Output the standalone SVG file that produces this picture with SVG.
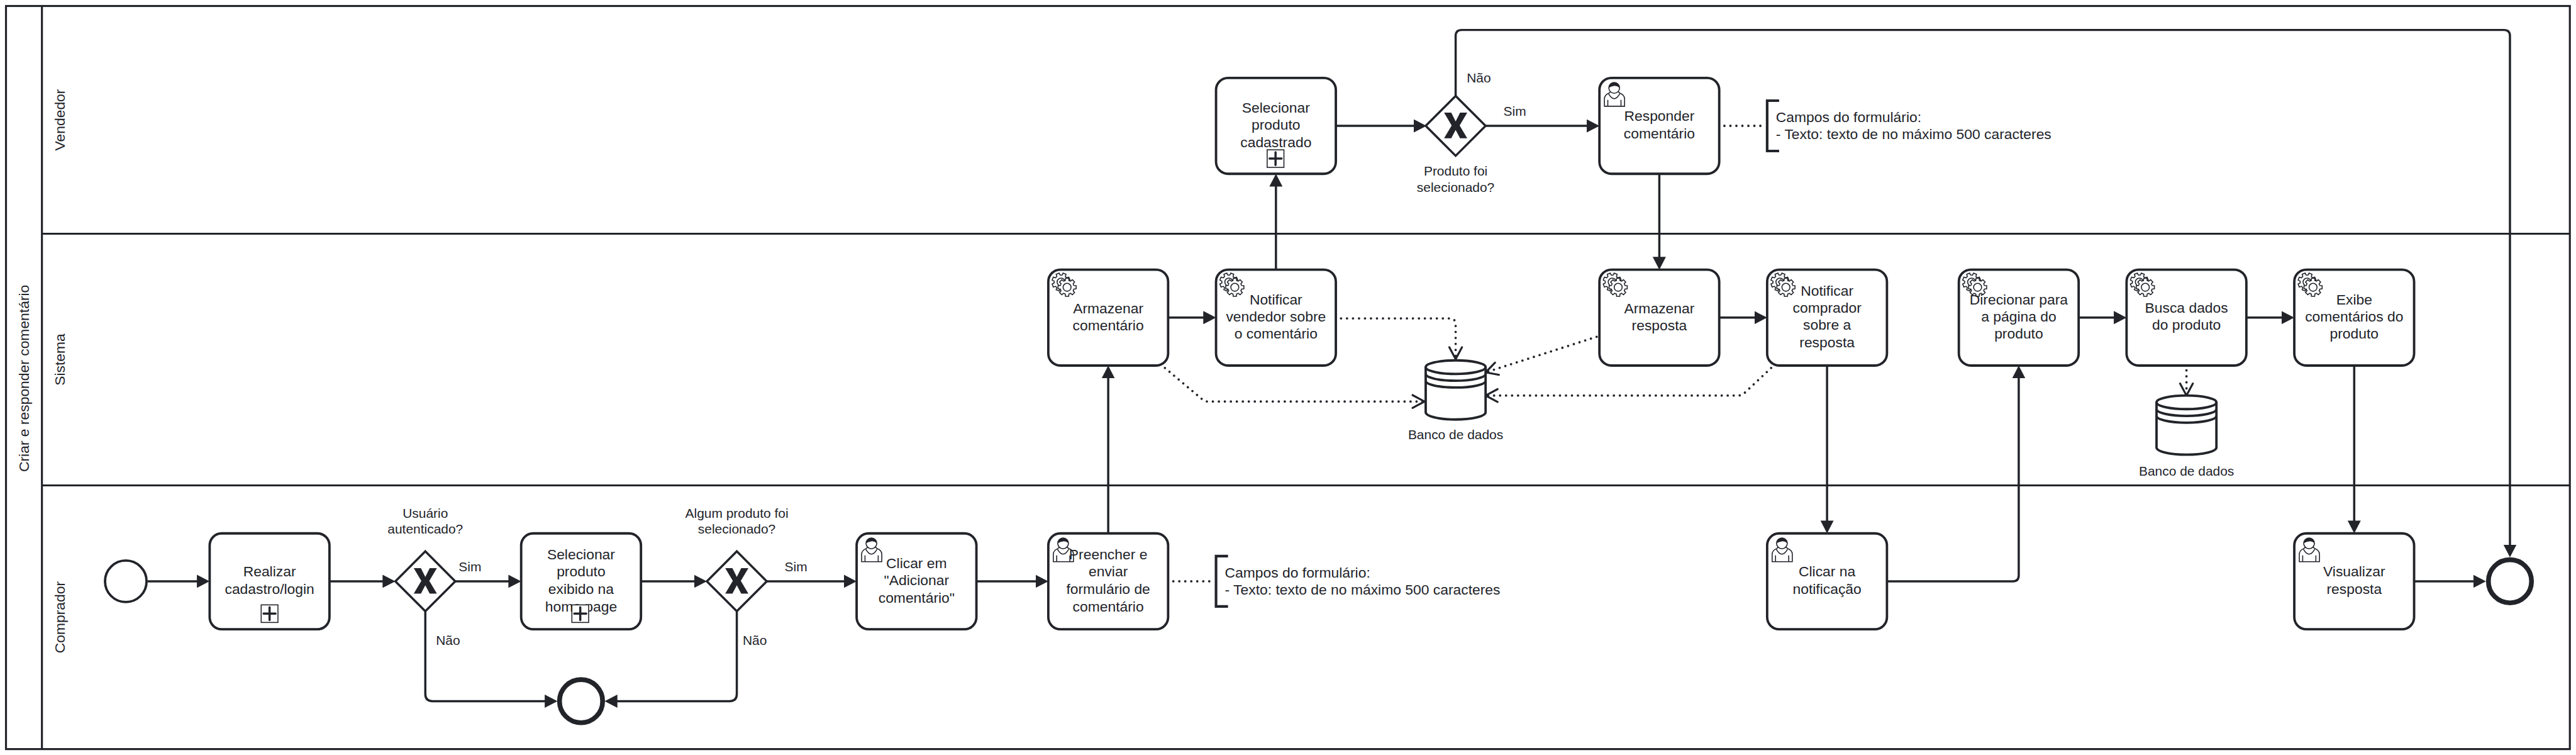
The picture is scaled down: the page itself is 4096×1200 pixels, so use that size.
<svg xmlns="http://www.w3.org/2000/svg" xmlns:xlink="http://www.w3.org/1999/xlink" width="4096" height="1200" viewBox="0 0 4096 1200">
<style>
text{font-family:"Liberation Sans",Arial,sans-serif;fill:#22242a}
.t{font-size:36px;text-anchor:middle}
.l{font-size:33px;text-anchor:middle}
.a{font-size:36px}
.lane{fill:none;stroke:#22242a;stroke-width:5}
.task{fill:#fff;stroke:#22242a;stroke-width:6}
.c{fill:none;stroke:#22242a;stroke-width:5.5;marker-end:url(#arrow)}
.d{fill:none;stroke:#22242a;stroke-width:6;stroke-dasharray:0 15;stroke-linecap:round}
.o{marker-end:url(#open)}
.db{fill:#fff;stroke:#22242a;stroke-width:6}
.br{fill:none;stroke:#22242a;stroke-width:6.5}
.ic{fill:#fff;stroke:#22242a;stroke-width:2.5}
</style>
<defs>
<marker id="arrow" markerUnits="userSpaceOnUse" markerWidth="32" markerHeight="33" viewBox="0 0 32 33" refX="22" refY="16.5" orient="auto"><polygon points="0,0 32,16.5 0,33" fill="#22242a"/></marker>
<marker id="open" markerUnits="userSpaceOnUse" markerWidth="40" markerHeight="40" viewBox="-4 -4 40 40" refX="30" refY="16" orient="auto"><path d="M0 0L30 16L0 32" fill="none" stroke="#22242a" stroke-width="5" stroke-linecap="round" stroke-linejoin="miter"/></marker>
<polygon id="gear" points="16.9,-4.5 22.65,-4 22.65,4 16.9,4.5 15.16,8.75 18.84,13.19 13.19,18.84 8.75,15.16 4.53,16.9 3.99,22.65 -3.99,22.65 -4.53,16.9 -8.75,15.16 -13.19,18.84 -18.84,13.19 -15.16,8.75 -16.9,4.53 -22.65,3.99 -22.65,-3.99 -16.9,-4.53 -15.16,-8.75 -18.84,-13.19 -13.19,-18.84 -8.75,-15.16 -4.53,-16.9 -3.99,-22.65 3.99,-22.65 4.53,-16.9 8.75,-15.16 13.19,-18.84 18.84,-13.19 15.16,-8.75"/>
<g id="service">
<use href="#gear" class="ic" transform="translate(32 31) rotate(22.5)"/>
<circle cx="32" cy="31" r="10" class="ic"/>
<use href="#gear" class="ic" transform="translate(47 44)"/>
<circle cx="47" cy="44" r="10" class="ic"/>
</g>
<g id="user">
<path class="ic" stroke-width="2" d="M12.5 71V52Q12.5 43 24 38L28 34H47L51 38Q63 43 63 52V71Z"/>
<path class="ic" d="M23 40Q37 64 51 40M21 55V70M54 55V70" style="fill:none"/>
<circle class="ic" cx="37" cy="25" r="13.5"/>
<path fill="#22242a" d="M23.5 25A13.5 13.5 0 0 1 50.5 25Q44 19 37 20Q30 21 23.5 25Z"/>
</g>
<g id="sub">
<rect x="-21" y="-22" width="42" height="44" fill="#fff" stroke="#22242a" stroke-width="2.5"/>
<path d="M-15 0H15M0 -16V16" fill="none" stroke="#22242a" stroke-width="5.5" stroke-linecap="round"/>
</g>
<g id="gw">
<polygon points="0,-75 75,0 0,75 -75,0" fill="#fff" stroke="#22242a" stroke-width="5.5" stroke-linejoin="miter"/>
<polygon fill="#22242a" points="-29,-33 -11,-33 0,-11 11,-33 29,-33 10,-1 29,31 11,31 0,10 -11,31 -29,31 -10,-1"/>
</g>
<g id="cyl">
<path class="db" d="M-75 17A75 17 0 0 1 75 17V130A75 18 0 0 1 -75 130Z"/>
<path class="db" style="fill:none" d="M-75 17A75 17 0 0 0 75 17M-75 34A75 17 0 0 0 75 34M-75 51A75 17 0 0 0 75 51"/>
</g>
</defs>
<rect width="4096" height="1200" fill="#fff"/>
<g transform="scale(0.635)">
<g id="lanes">
<rect class="lane" x="15" y="15" width="6420" height="1860"/>
<path class="lane" d="M105 15V1875M105 585H6435M105 1215H6435"/>
<text class="t" transform="translate(72 947) rotate(-90)">Criar e responder comentário</text>
<text class="t" transform="translate(162 300) rotate(-90)">Vendedor</text>
<text class="t" transform="translate(162 900) rotate(-90)">Sistema</text>
<text class="t" transform="translate(162 1545) rotate(-90)">Comprador</text>
</g>
<g id="connectors">
<path class="c" d="M370 1455H515"/>
<path class="c" d="M825 1455H980"/>
<path class="c" d="M1140 1455H1295"/>
<path class="c" d="M1605 1455H1760"/>
<path class="c" d="M1920 1455H2135"/>
<path class="c" d="M2445 1455H2615"/>
<path class="c" d="M1065 1530V1737Q1065 1755 1083 1755H1386"/>
<path class="c" d="M1845 1530V1737Q1845 1755 1827 1755H1524"/>
<path class="c" d="M2775 1335V925"/>
<path class="c" d="M2925 795H3035"/>
<path class="c" d="M3195 675V445"/>
<path class="c" d="M3345 315H3562"/>
<path class="c" d="M3720 315H3995"/>
<path class="c" d="M3645 240V90Q3645 75 3660 75H6270Q6285 75 6285 90V1385"/>
<path class="c" d="M4155 435V665"/>
<path class="c" d="M4305 795H4415"/>
<path class="c" d="M4575 915V1325"/>
<path class="c" d="M4725 1455H5040Q5055 1455 5055 1440V925"/>
<path class="c" d="M5205 795H5315"/>
<path class="c" d="M5625 795H5735"/>
<path class="c" d="M5895 915V1325"/>
<path class="c" d="M6045 1455H6215"/>
<path class="d" d="M2938 1455H3036"/>
<path class="d" d="M4318 315H4416"/>
<path class="d o" d="M3358 797H3630Q3645 797 3645 812V899"/>
<path class="d o" d="M2917 921L3011 1000Q3017 1005 3025 1005H3567"/>
<path class="d o" d="M3998 843L3720 932"/>
<path class="d o" d="M4435 921L4370 982Q4362 990 4352 990H3720"/>
<path class="d o" d="M5475 927V990"/>
</g>
<g id="start"><circle cx="315" cy="1455" r="52" fill="#fff" stroke="#22242a" stroke-width="6"/></g>
<g id="task-realizar"><rect class="task" x="525" y="1335" width="300" height="240" rx="30"/><text class="t"><tspan x="675" y="1443">Realizar</tspan><tspan x="675" y="1486">cadastro/login</tspan></text><use href="#sub" x="675" y="1536"/></g>
<g id="gw-usuario"><use href="#gw" x="1065" y="1455"/><text class="l"><tspan x="1065" y="1296">Usuário</tspan><tspan x="1065" y="1336">autenticado?</tspan></text><text class="l" x="1177" y="1430">Sim</text><text class="l" x="1122" y="1614">Não</text></g>
<g id="task-selecionar-home"><rect class="task" x="1305" y="1335" width="300" height="240" rx="30"/><text class="t"><tspan x="1455" y="1400">Selecionar</tspan><tspan x="1455" y="1443">produto</tspan><tspan x="1455" y="1486">exibido na</tspan><tspan x="1455" y="1530">home page</tspan></text><use href="#sub" x="1453" y="1536"/></g>
<g id="gw-produto"><use href="#gw" x="1845" y="1455"/><text class="l"><tspan x="1845" y="1296">Algum produto foi</tspan><tspan x="1845" y="1336">selecionado?</tspan></text><text class="l" x="1993" y="1430">Sim</text><text class="l" x="1890" y="1614">Não</text></g>
<g id="end-1"><circle cx="1455" cy="1755" r="54" fill="#fff" stroke="#22242a" stroke-width="12"/></g>
<g id="task-clicar"><rect class="task" x="2145" y="1335" width="300" height="240" rx="30"/><use href="#user" x="2145" y="1335"/><text class="t"><tspan x="2295" y="1422">Clicar em</tspan><tspan x="2295" y="1465">"Adicionar</tspan><tspan x="2295" y="1508">comentário"</tspan></text></g>
<g id="task-preencher"><rect class="task" x="2625" y="1335" width="300" height="240" rx="30"/><use href="#user" x="2625" y="1335"/><text class="t"><tspan x="2775" y="1400">Preencher e</tspan><tspan x="2775" y="1443">enviar</tspan><tspan x="2775" y="1486">formulário de</tspan><tspan x="2775" y="1530">comentário</tspan></text></g>
<g id="note-comprador"><path class="br" d="M3075 1392H3045V1518H3075"/><text class="a"><tspan x="3067" y="1445">Campos do formulário:</tspan><tspan x="3067" y="1488">- Texto: texto de no máximo 500 caracteres</tspan></text></g>
<g id="task-armazenar-comentario"><rect class="task" x="2625" y="675" width="300" height="240" rx="30"/><use href="#service" x="2625" y="675"/><text class="t"><tspan x="2775" y="784">Armazenar</tspan><tspan x="2775" y="827">comentário</tspan></text></g>
<g id="task-notificar-vendedor"><rect class="task" x="3045" y="675" width="300" height="240" rx="30"/><use href="#service" x="3045" y="675"/><text class="t"><tspan x="3195" y="762">Notificar</tspan><tspan x="3195" y="805">vendedor sobre</tspan><tspan x="3195" y="848">o comentário</tspan></text></g>
<g id="task-selecionar-cadastrado"><rect class="task" x="3045" y="195" width="300" height="240" rx="30"/><text class="t"><tspan x="3195" y="282">Selecionar</tspan><tspan x="3195" y="325">produto</tspan><tspan x="3195" y="368">cadastrado</tspan></text><use href="#sub" x="3194" y="397"/></g>
<g id="gw-vendedor"><use href="#gw" x="3645" y="315"/><text class="l"><tspan x="3645" y="440">Produto foi</tspan><tspan x="3645" y="480">selecionado?</tspan></text><text class="l" x="3703" y="207">Não</text><text class="l" x="3793" y="290">Sim</text></g>
<g id="task-responder"><rect class="task" x="4005" y="195" width="300" height="240" rx="30"/><use href="#user" x="4005" y="195"/><text class="t"><tspan x="4155" y="303">Responder</tspan><tspan x="4155" y="346">comentário</tspan></text></g>
<g id="note-vendedor"><path class="br" d="M4455 252H4425V378H4455"/><text class="a"><tspan x="4447" y="305">Campos do formulário:</tspan><tspan x="4447" y="348">- Texto: texto de no máximo 500 caracteres</tspan></text></g>
<g id="db-1"><use href="#cyl" x="3645" y="902"/><text class="l" x="3645" y="1100">Banco de dados</text></g>
<g id="task-armazenar-resposta"><rect class="task" x="4005" y="675" width="300" height="240" rx="30"/><use href="#service" x="4005" y="675"/><text class="t"><tspan x="4155" y="784">Armazenar</tspan><tspan x="4155" y="827">resposta</tspan></text></g>
<g id="task-notificar-comprador"><rect class="task" x="4425" y="675" width="300" height="240" rx="30"/><use href="#service" x="4425" y="675"/><text class="t"><tspan x="4575" y="740">Notificar</tspan><tspan x="4575" y="783">comprador</tspan><tspan x="4575" y="826">sobre a</tspan><tspan x="4575" y="870">resposta</tspan></text></g>
<g id="task-clicar-notificacao"><rect class="task" x="4425" y="1335" width="300" height="240" rx="30"/><use href="#user" x="4425" y="1335"/><text class="t"><tspan x="4575" y="1443">Clicar na</tspan><tspan x="4575" y="1486">notificação</tspan></text></g>
<g id="task-direcionar"><rect class="task" x="4905" y="675" width="300" height="240" rx="30"/><use href="#service" x="4905" y="675"/><text class="t"><tspan x="5055" y="762">Direcionar para</tspan><tspan x="5055" y="805">a página do</tspan><tspan x="5055" y="848">produto</tspan></text></g>
<g id="task-busca"><rect class="task" x="5325" y="675" width="300" height="240" rx="30"/><use href="#service" x="5325" y="675"/><text class="t"><tspan x="5475" y="783">Busca dados</tspan><tspan x="5475" y="826">do produto</tspan></text></g>
<g id="db-2"><use href="#cyl" x="5475" y="990"/><text class="l" x="5475" y="1190">Banco de dados</text></g>
<g id="task-exibe"><rect class="task" x="5745" y="675" width="300" height="240" rx="30"/><use href="#service" x="5745" y="675"/><text class="t"><tspan x="5895" y="762">Exibe</tspan><tspan x="5895" y="805">comentários do</tspan><tspan x="5895" y="848">produto</tspan></text></g>
<g id="task-visualizar"><rect class="task" x="5745" y="1335" width="300" height="240" rx="30"/><use href="#user" x="5745" y="1335"/><text class="t"><tspan x="5895" y="1443">Visualizar</tspan><tspan x="5895" y="1486">resposta</tspan></text></g>
<g id="end-2"><circle cx="6285" cy="1455" r="54" fill="#fff" stroke="#22242a" stroke-width="12"/></g>
</g>
</svg>
